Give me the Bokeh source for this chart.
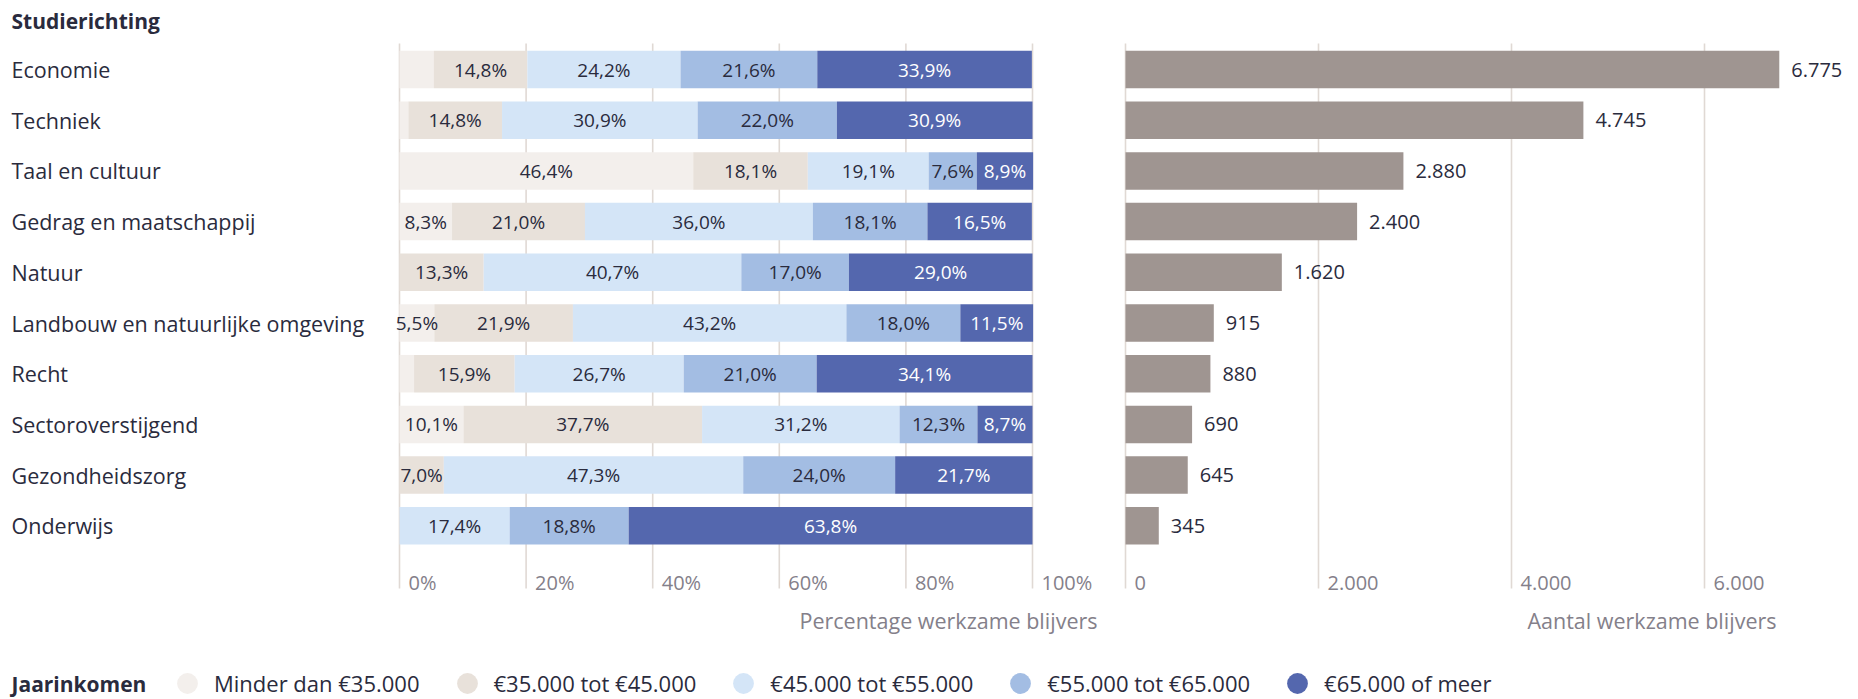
from bokeh.plotting import figure
from bokeh.models import Range1d, ColumnDataSource, Legend, LegendItem
from bokeh.embed import file_html
from bokeh.resources import INLINE
from bokeh.core.properties import value

# ---------------- data ----------------
categories = ["Economie", "Techniek", "Taal en cultuur", "Gedrag en maatschappij", "Natuur",
              "Landbouw en natuurlijke omgeving", "Recht", "Sectoroverstijgend",
              "Gezondheidszorg", "Onderwijs"]
income_groups = ["Minder dan €35.000", "€35.000 tot €45.000", "€45.000 tot €55.000",
                 "€55.000 tot €65.000", "€65.000 of meer"]
pct_lt35 = [5.4, 1.4, 46.4, 8.3, 0.0, 5.5, 2.3, 10.1, 0.0, 0.0]
pct_35_45 = [14.8, 14.8, 18.1, 21.0, 13.3, 21.9, 15.9, 37.7, 7.0, 0.0]
pct_45_55 = [24.2, 30.9, 19.1, 36.0, 40.7, 43.2, 26.7, 31.2, 47.3, 17.4]
pct_55_65 = [21.6, 22.0, 7.6, 18.1, 17.0, 18.0, 21.0, 12.3, 24.0, 18.8]
pct_65plus = [33.9, 30.9, 8.9, 16.5, 29.0, 11.5, 34.1, 8.7, 21.7, 63.8]
counts = [6775, 4745, 2880, 2400, 1620, 915, 880, 690, 645, 345]
pct_ticks = [0, 20, 40, 60, 80, 100]
count_ticks = [0, 2000, 4000, 6000]
pct_tick_labels = ["0%", "20%", "40%", "60%", "80%", "100%"]
count_tick_labels = ["0", "2.000", "4.000", "6.000"]
title_left = "Studierichting"
legend_title = "Jaarinkomen"
x_title_pct = "Percentage werkzame blijvers"
x_title_cnt = "Aantal werkzame blijvers"

# ---------------- styles / layout ----------------
colors = ["#f3efec", "#e8e1da", "#d4e5f7", "#a3bde3", "#5467ae"]
label_colors = ["#2a2b3d", "#2a2b3d", "#2a2b3d", "#2a2b3d", "#ffffff"]
bar_grey = "#9f9591"
grid_color = "#e0d9d4"
dark = "#2a2b3d"
muted = "#84808a"
FONT = value("Open Sans")

W, H = 1858, 699
PX0, PPP = 399.0, 6.33        # x of 0 %, px per %
CX0, PPC = 1125.0, 0.0965     # x of 0 count, px per count
ROW0, ROWH = 69.0, 50.7       # y of first row centre, px per row
BAR_H = 0.74


def fx(px):
    return (px - PX0) / PPP


def fy(py):
    return (py - ROW0) / ROWH


rows = list(range(len(categories)))

p = figure(width=W, height=H, output_backend="svg", toolbar_location=None,
           x_range=Range1d(-PX0 / PPP, (W - PX0) / PPP),
           y_range=Range1d((H - ROW0) / ROWH, -ROW0 / ROWH),
           x_axis_location=None, y_axis_location=None, min_border=0)
p.extra_x_ranges = {"count": Range1d(-CX0 / PPC, (W - CX0) / PPC)}
p.outline_line_color = None
p.grid.visible = False
p.background_fill_color = "white"
p.border_fill_color = "white"

# gridlines
g_top, g_bot = fy(43), fy(588)
p.segment(x0=pct_ticks, x1=pct_ticks, y0=[g_top] * len(pct_ticks), y1=[g_bot] * len(pct_ticks),
          line_color=grid_color, line_width=1.6)
p.segment(x0=count_ticks, x1=count_ticks, y0=[g_top] * len(count_ticks),
          y1=[g_bot] * len(count_ticks), line_color=grid_color, line_width=1.6,
          x_range_name="count")

# stacked percentage bars
series = [pct_lt35, pct_35_45, pct_45_55, pct_55_65, pct_65plus]
keys = ["s0", "s1", "s2", "s3", "s4"]
data = {"row": rows}
for k, s in zip(keys, series):
    data[k] = s
src = ColumnDataSource(data)
p.hbar_stack(keys, y="row", height=BAR_H, fill_color=colors, line_color=None, source=src)

# segment labels
lx, ly, lt, lc = [], [], [], []
for i in rows:
    cum = 0.0
    for j, s in enumerate(series):
        v = s[i]
        if v >= 5.5:
            lx.append(cum + v / 2)
            ly.append(i)
            lt.append(f"{v:.1f}%".replace(".", ","))
            lc.append(label_colors[j])
        cum += v
p.text(x="x", y="y", text="t", text_color="c",
       source=ColumnDataSource(dict(x=lx, y=ly, t=lt, c=lc)),
       text_font=FONT, text_font_size="19px", text_align="center", text_baseline="middle")

# count bars
p.hbar(y=rows, left=0, right=counts, height=BAR_H, fill_color=bar_grey, line_color=None,
       x_range_name="count")
p.text(x=counts, y=rows, text=[f"{c:,}".replace(",", ".") for c in counts],
       x_range_name="count", x_offset=12, text_font=FONT, text_font_size="20px",
       text_color=dark, text_align="left", text_baseline="middle")

# category labels
p.text(x=[fx(11)] * len(categories), y=rows, text=categories, text_font=FONT,
       text_font_size="21.5px", text_color=dark, text_align="left", text_baseline="middle")

# title
p.text(x=[fx(11)], y=[fy(20)], text=[title_left], text_font=FONT, text_font_size="21px",
       text_font_style="bold", text_color=dark, text_align="left", text_baseline="middle")

# tick labels
p.text(x=pct_ticks, y=[fy(582)] * len(pct_ticks), text=pct_tick_labels, x_offset=9,
       text_font=FONT, text_font_size="20px", text_color=muted, text_align="left",
       text_baseline="middle")
p.text(x=count_ticks, y=[fy(582)] * len(count_ticks), text=count_tick_labels, x_offset=9,
       x_range_name="count", text_font=FONT, text_font_size="20px", text_color=muted,
       text_align="left", text_baseline="middle")

# axis titles
p.text(x=[fx(1097)], y=[fy(620)], text=[x_title_pct], text_font=FONT, text_font_size="21.5px",
       text_color=muted, text_align="right", text_baseline="middle")
p.text(x=[(1776 - CX0) / PPC], y=[fy(620)], text=[x_title_cnt], x_range_name="count",
       text_font=FONT, text_font_size="21.5px", text_color=muted, text_align="right",
       text_baseline="middle")

# legend
LEG_Y = 683
p.text(x=[fx(11)], y=[fy(LEG_Y)], text=[legend_title], text_font=FONT, text_font_size="21px",
       text_font_style="bold", text_color=dark, text_align="left", text_baseline="middle")
items = []
nan = float("nan")
for g, c in zip(income_groups, colors):
    r = p.scatter(x=[nan], y=[nan], marker="circle", size=20, fill_color=c, line_color=None)
    items.append(LegendItem(label=g, renderers=[r]))
GH = 52
legend = Legend(items=items, orientation="horizontal",
                location=(161, H - (LEG_Y + GH / 2)),
                glyph_width=GH, glyph_height=GH, label_standoff=1, spacing=21,
                padding=0, margin=0, border_line_color=None, background_fill_alpha=0,
                label_text_font="Open Sans", label_text_font_size="22px",
                label_text_color=dark, label_text_baseline="middle")
p.add_layout(legend)

open("out.html", "w").write(file_html(p, INLINE))
